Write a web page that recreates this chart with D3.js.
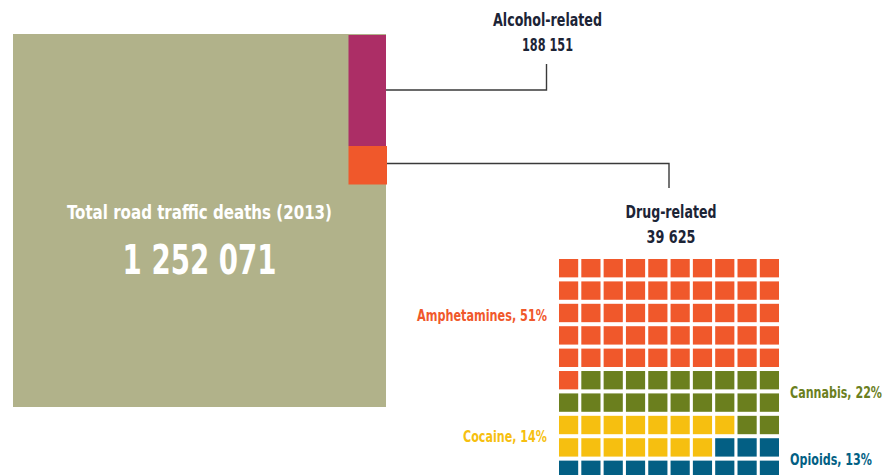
<!DOCTYPE html>
<html>
<head>
<meta charset="utf-8">
<script src="https://cdn.jsdelivr.net/npm/d3@7"></script>
<style>
  body { margin:0; background:#fff; }
  svg text { font-family:"DejaVu Sans Condensed","DejaVu Sans",sans-serif; font-stretch:condensed; font-weight:bold; }
</style>
</head>
<body>
<div id="w"></div>
<script>
// totals
var totalLabel = "Total road traffic deaths (2013)"
var totalValue = "1 252 071"
var alcoholLabel = ["Alcohol-related", "188 151"]
var drugLabel = ["Drug-related", "39 625"]

// drug breakdown
var drugs = ["Amphetamines", "Cannabis", "Cocaine", "Opioids"]
var shares = [51, 22, 14, 13]
var drugColors = ["#f0582b", "#6b7f1e", "#f6bf10", "#035f84"]

// waffle rows as they are laid out (index into drugs)
var waffleRows = [
  [0,0,0,0,0,0,0,0,0,0],
  [0,0,0,0,0,0,0,0,0,0],
  [0,0,0,0,0,0,0,0,0,0],
  [0,0,0,0,0,0,0,0,0,0],
  [0,0,0,0,0,0,0,0,0,0],
  [0,1,1,1,1,1,1,1,1,1],
  [1,1,1,1,1,1,1,1,1,1],
  [2,2,2,2,2,2,2,2,1,1],
  [2,2,2,2,2,2,2,3,3,3],
  [3,3,3,3,3,3,3,3,3,3]
]

var W = 884, H = 475
var svg = d3.select("#w").append("svg")
  .attr("width", W)
  .attr("height", H)

// squeeze text to the width it has in the print layout
function fit(sel, w) {
  sel.attr("textLength", w).attr("lengthAdjust", "spacingAndGlyphs")
  return sel
}

// big square
var sq = {x0:13, x1:386, y0:34, y1:407}
svg.append("rect")
  .attr("x", sq.x0).attr("y", sq.y0)
  .attr("width", sq.x1 - sq.x0).attr("height", sq.y1 - sq.y0)
  .attr("fill", "#b1b28a")

// alcohol + drug strips on the right edge
svg.append("rect")
  .attr("x", 348.5).attr("y", 35)
  .attr("width", 37.5).attr("height", 111)
  .attr("fill", "#ac2e66")
svg.append("rect")
  .attr("x", 348.5).attr("y", 146)
  .attr("width", 38.5).attr("height", 38.5)
  .attr("fill", "#f0582b")

var cx = (sq.x0 + sq.x1) / 2
fit(svg.append("text")
  .attr("x", cx).attr("y", 219)
  .attr("text-anchor", "middle")
  .attr("fill", "#fff")
  .style("font-size", "20px")
  .text(totalLabel), 265)
fit(svg.append("text")
  .attr("x", cx).attr("y", 274)
  .attr("text-anchor", "middle")
  .attr("fill", "#fff")
  .style("font-size", "40px")
  .text(totalValue), 154)

// connectors
var line = d3.line()
svg.append("path")
  .attr("d", line([[386, 90], [546.5, 90], [546.5, 64]]))
  .attr("fill", "none").attr("stroke", "#3a3a3a").attr("stroke-width", 1.4)
svg.append("path")
  .attr("d", line([[387, 163.5], [669, 163.5], [669, 188]]))
  .attr("fill", "none").attr("stroke", "#3a3a3a").attr("stroke-width", 1.4)

function headLabel(lines, widths, x, y) {
  lines.forEach(function(s, i) {
    fit(svg.append("text")
      .attr("x", x).attr("y", y + i * 25)
      .attr("text-anchor", "middle")
      .attr("fill", "#1c2436")
      .style("font-size", "18px")
      .text(s), widths[i])
  })
}
headLabel(alcoholLabel, [109, 51], 547.5, 26)
headLabel(drugLabel, [91, 49], 671, 218)

// waffle
var cols = d3.scaleBand().domain(d3.range(10)).range([559, 779]).paddingInner(0.14)
var rows = d3.scaleBand().domain(d3.range(10)).range([259, 479]).paddingInner(0.18)

var cells = []
waffleRows.forEach(function(r, i) {
  r.forEach(function(c, j) { cells.push({row:i, col:j, cat:c}) })
})
svg.selectAll("rect.cell")
  .data(cells)
  .enter()
  .append("rect")
  .attr("class", "cell")
  .attr("x", function(d) { return cols(d.col) })
  .attr("y", function(d) { return rows(d.row) })
  .attr("width", cols.bandwidth())
  .attr("height", rows.bandwidth())
  .attr("fill", function(d) { return drugColors[d.cat] })

// legend labels
var labPos = [
  {x:547, y:321, anchor:"end", w:130},
  {x:790, y:398, anchor:"start", w:92},
  {x:547, y:442, anchor:"end", w:84},
  {x:790, y:465, anchor:"start", w:82}
]
svg.selectAll("text.lab")
  .data(drugs)
  .enter()
  .append("text")
  .attr("class", "lab")
  .attr("x", function(d, i) { return labPos[i].x })
  .attr("y", function(d, i) { return labPos[i].y })
  .attr("text-anchor", function(d, i) { return labPos[i].anchor })
  .attr("textLength", function(d, i) { return labPos[i].w })
  .attr("lengthAdjust", "spacingAndGlyphs")
  .attr("fill", function(d, i) { return drugColors[i] })
  .style("font-size", "16px")
  .text(function(d, i) { return d + ", " + shares[i] + "%" })
</script>
</body>
</html>
